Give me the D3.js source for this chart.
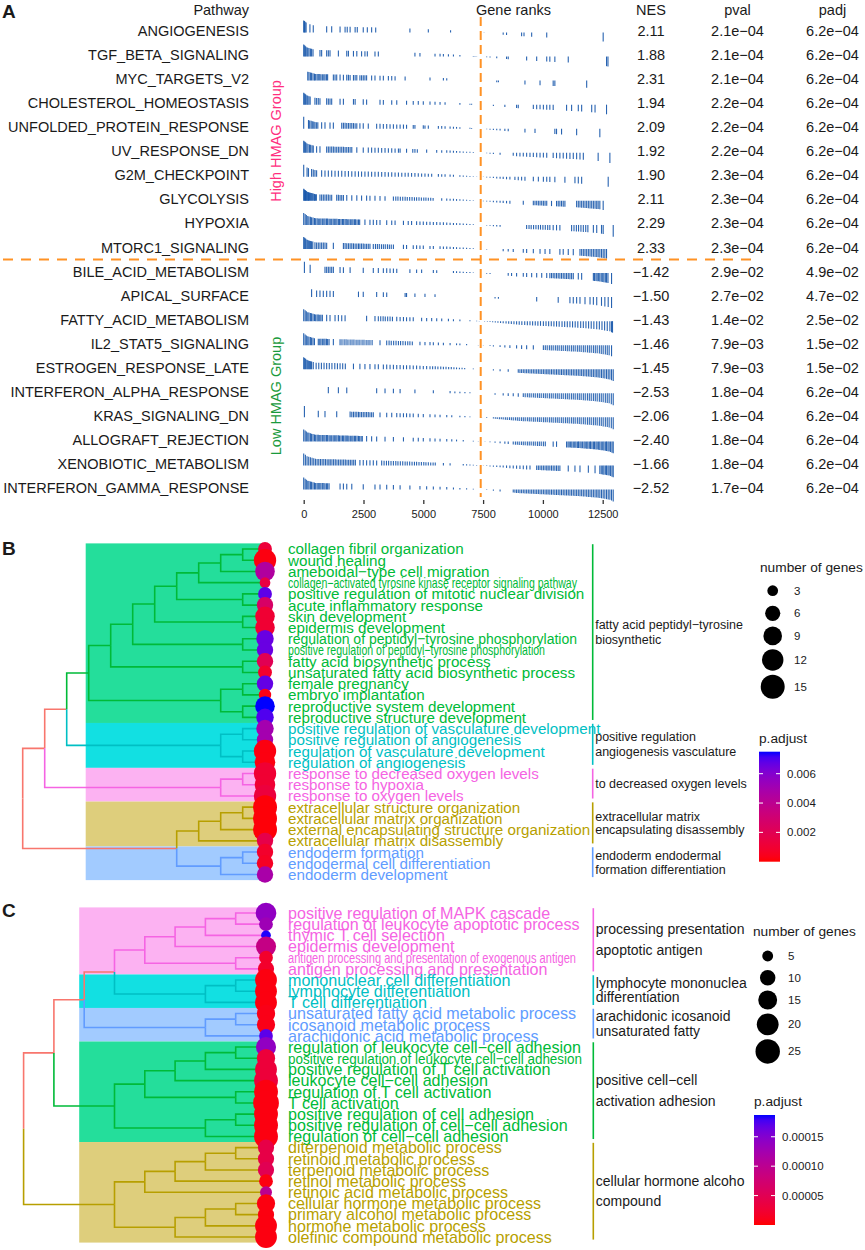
<!DOCTYPE html>
<html>
<head>
<meta charset="utf-8">
<script src="https://cdn.jsdelivr.net/npm/d3@7"></script>
<style>
body { margin: 0; background: #fff; }
svg text { font-family: "Liberation Sans", Arial, sans-serif; fill: #1a1a1a; }
</style>
</head>
<body>
<div id="fig"></div>
<script>
// ---------- Panel A: GSEA table ----------
var pathways = ["ANGIOGENESIS","TGF_BETA_SIGNALING","MYC_TARGETS_V2","CHOLESTEROL_HOMEOSTASIS",
  "UNFOLDED_PROTEIN_RESPONSE","UV_RESPONSE_DN","G2M_CHECKPOINT","GLYCOLYSIS","HYPOXIA","MTORC1_SIGNALING",
  "BILE_ACID_METABOLISM","APICAL_SURFACE","FATTY_ACID_METABOLISM","IL2_STAT5_SIGNALING","ESTROGEN_RESPONSE_LATE",
  "INTERFERON_ALPHA_RESPONSE","KRAS_SIGNALING_DN","ALLOGRAFT_REJECTION","XENOBIOTIC_METABOLISM","INTERFERON_GAMMA_RESPONSE"];
var nes = [2.11,1.88,2.31,1.94,2.09,1.92,1.90,2.11,2.29,2.33,-1.42,-1.50,-1.43,-1.46,-1.45,-2.53,-2.06,-2.40,-1.66,-2.52];
var pval = [2.1e-4,2.1e-4,2.1e-4,2.2e-4,2.2e-4,2.2e-4,2.3e-4,2.3e-4,2.3e-4,2.3e-4,2.9e-2,2.7e-2,1.4e-2,7.9e-3,7.9e-3,1.8e-4,1.8e-4,1.8e-4,1.8e-4,1.7e-4];
var padj = [6.2e-4,6.2e-4,6.2e-4,6.2e-4,6.2e-4,6.2e-4,6.2e-4,6.2e-4,6.2e-4,6.2e-4,4.9e-2,4.7e-2,2.5e-2,1.5e-2,1.5e-2,6.2e-4,6.2e-4,6.2e-4,6.2e-4,6.2e-4];
var groupNames = ["High HMAG Group","Low HMAG Group"];
var rankTicks = [0,2500,5000,7500,10000,12500];
var zeroRank = 7400;
// ranked-list statistic (scaled to max |stat| = 1) at a few ranks
var statRanks = [0,150,500,1500,3000,4500,6000,7000,7400,8000,9000,10500,11500,12300,12800,12950];
var statValues = [1.0,0.75,0.55,0.5,0.42,0.32,0.2,0.07,0,-0.12,-0.3,-0.45,-0.55,-0.68,-0.85,-1.0];
// gene positions of each pathway in the ranked list
var geneRanks = [
[0,30,60,100,260,400,960,1170,1520,1730,1820,1940,2150,2240,2490,2660,2840,3010,4440,5210,6140,7540,8340,8480,9110,9210,9530,10160,12520],
[0,40,80,130,170,220,280,330,390,680,750,960,1030,1100,1450,1800,1870,2080,2220,2420,2560,2660,2980,3120,4650,4860,5490,5700,5840,6050,6260,6530,7090,7160,7230,7650,7790,8070,8480,8550,9320,9740,10160,10290,10500,11060,12660,12720],
[170,220,280,330,390,450,500,560,610,670,720,780,840,890,950,1000,1240,1310,1380,1520,1660,1800,1870,1940,2080,2150,2220,2350,2420,2490,2560,2630,2840,2980,3190,3330,3540,3680,3820,4240,5280,5840,5980,7440,8070,8140,9250,9880,10430,10500,11830],
[0,40,80,130,170,220,270,470,540,610,680,960,1030,1100,1170,1520,1660,2080,2150,2490,2630,3190,3330,3680,3890,4300,4580,4790,5000,5280,5490,5700,5910,6530,6950,7020,7440,7930,8410,8900,8970,9600,9740,9880,10020,10160,10290,10430,10990,11200,11480,11620,12040,12180,12660],
[0,200,250,310,360,420,470,530,590,750,890,1100,1240,1590,1660,1730,1800,1870,1940,2010,2080,2150,2220,2350,2490,2700,3050,3190,3330,3470,3610,3750,3890,4030,4170,4300,4580,4650,5000,5070,5210,5630,5770,5910,6120,6260,6390,6530,6950,7020,7370,7440,7650,7790,7930,8070,8210,8410,8550,9250,9670,10500,10570,10780,11410,12380],
[0,40,80,130,180,240,290,350,400,540,680,960,1030,1100,1170,1240,1310,1380,1450,1520,1590,1660,1730,1800,1870,1940,2010,2220,2490,2700,2840,2980,3120,3260,3400,3540,3680,3820,3960,4030,4300,4560,4650,4750,5140,5560,5770,5980,6120,6260,6390,6530,6670,6810,6950,7090,7440,7650,7790,7930,8210,8760,8900,9040,9180,9320,9460,9600,9740,9880,10020,10160,10430,10570,10710,10850,10990,11130,11270,11410,11550,11690,12310,12800],
[0,140,200,330,400,470,540,750,890,1030,1170,1310,1450,1590,1730,1870,2010,2150,2290,2420,2560,2700,2840,2980,3120,3260,3400,3540,3680,3820,3960,4100,4240,4370,4510,4650,4790,4930,5070,5210,5350,5630,5770,5910,6120,6260,6530,6670,6810,6950,7090,7230,7510,7650,7790,7930,8070,8210,8340,8480,8620,8830,8970,9110,9250,9600,9810,10020,10160,10290,10500,10920,11340,11480,11620,12730],
[0,30,60,80,110,140,170,200,240,280,320,360,400,450,490,530,680,750,820,890,960,1030,1100,1170,1380,1450,1520,1590,1660,1800,2010,2220,2420,2630,2770,2980,3190,3400,3750,3850,3940,4040,4140,4240,4330,4430,4530,4630,4720,4820,4920,5020,5110,5210,5310,5410,5770,5980,6120,6260,6390,6530,6670,6810,6950,7090,7300,7510,7650,7790,7930,8070,8210,8340,8480,8620,9180,9600,9670,9740,9810,9880,9950,10020,10090,10160,10360,10570,10640,10710,10780,10850,10920,11410,11480,11550,11620,11690,11760,11830,11900,11970,12040,12110,12180,12250,12310,12380,12520],
[0,60,110,170,220,280,330,390,450,500,560,610,670,720,780,840,890,950,1000,1060,1110,1170,1230,1280,1340,1390,1450,1500,1560,1620,1670,1730,1780,1840,1890,1950,2010,2060,2120,2170,2230,2290,2340,2560,2770,2910,3050,3190,3470,3680,3820,4170,4370,4510,4720,4860,5000,5140,5280,5420,5560,5700,5840,5980,6120,6260,6390,6530,6670,6810,6950,7090,7650,7790,7930,8070,8210,9320,9420,9510,9610,9710,9810,9900,10000,10100,10200,10290,10430,10570,10710,11200,11300,11400,11490,11590,11690,11790,11880,12110,12250,12450,12520,12940],
[0,40,80,130,170,210,250,290,330,380,470,540,610,680,750,820,890,960,1240,1660,1730,1800,1870,1940,2010,2080,2150,2220,2290,2350,2420,2490,2560,2630,2700,2770,2910,3000,3080,3160,3250,3330,3410,3500,3580,3660,3750,4170,4300,4580,4720,4860,5000,5280,5420,5700,5840,5980,6120,6260,6390,6530,6670,6810,6950,7090,7650,8340,8550,8760,9180,9320,9600,9880,10090,10290,10710,10850,11060,11270,11550,11620,11690,11760,11830,11900,11970,12040,12110,12180,12250,12310,12380,12450,12520,12590,12660],
[30,270,890,960,1030,1100,1170,1240,1520,1660,1940,2490,2910,3120,3330,3470,3610,3750,3890,4440,4720,4930,5420,5560,6260,6390,6530,6670,6810,6950,7090,7650,7790,8550,8690,8900,9180,9320,9530,9740,9950,10160,10290,10360,10430,10500,10570,10640,10710,10780,10850,10920,10990,11060,11130,11200,11270,11480,11620,12110,12160,12220,12270,12330,12380,12440,12500,12550,12610,12660,12720,12870],
[330,540,680,820,960,1100,1240,2290,2490,3050,3330,3470,4240,4300,4650,5070,5490,8000,8140,9740,10640,11130,11270,11410,11550,11760,11970,12110,12250,12450,12590,12730,12870],
[0,60,110,170,220,280,330,390,450,500,560,610,670,720,780,960,1100,1310,1450,1590,1730,2630,2980,3120,3220,3320,3410,3510,3610,3710,3890,4030,4170,4300,4440,4580,4930,5140,5350,5560,5770,6050,6260,6530,6950,7230,7340,7450,7560,7680,7790,7900,8010,8120,8230,8340,8460,8570,8680,8790,8900,9010,9120,9240,9350,9460,9570,9680,9790,9900,10020,10130,10240,10350,10460,10570,10680,10800,10910,11020,11130,11240,11350,11460,11580,11690,11800,11910,12020,12130,12250,12360,12470,12580,12690,12800,12870,12910],
[0,60,110,170,220,280,330,390,450,610,670,720,780,840,890,950,1000,1060,1240,1520,1600,1690,1770,1850,1940,2020,2100,2190,2270,2350,2440,2520,2610,2690,2770,2860,3190,3470,3570,3660,3760,3860,3960,4050,4150,4250,4350,4440,4540,4860,5070,5280,5420,5630,5840,6120,6390,6530,6810,7300,7510,7790,7930,8210,8410,8620,8900,9110,9320,9600,10020,10100,10180,10270,10350,10430,10520,10600,10680,10770,10850,10940,11020,11100,11190,11270,11350,11440,11520,11600,11690,11770,11860,11940,12020,12110,12190,12270,12360,12440,12520,12610,12690,12770,12870],
[0,40,80,130,170,210,250,290,330,400,520,630,740,850,960,1070,1180,1300,1410,1520,1630,1740,2080,2350,2560,2770,2980,3120,3330,3470,3610,3750,3890,4030,4170,4300,4440,4580,4720,4860,5000,5140,5280,5390,5500,5610,5730,5840,5950,6060,6170,6280,6390,6510,6620,6730,7090,7370,7930,8210,8550,8970,9040,9110,9180,9250,9320,9390,9460,9530,9600,9670,9740,9810,9880,9950,10020,10090,10160,10220,10290,10360,10430,10500,10570,10640,10710,10780,10850,10920,10990,11060,11130,11200,11270,11340,11410,11480,11550,11620,11690,11760,11830,11900,11970,12040,12110,12180,12250,12310,12380,12450,12520,12590,12660,12730,12800,12870,12940],
[1030,1450,1800,3050,3400,3750,4030,4650,5420,6120,6320,6530,6740,6950,7370,8000,8340,8550,8760,8970,9180,9260,9350,9430,9510,9600,9680,9770,9850,9930,10020,10100,10180,10270,10350,10430,10520,10600,10680,10770,10850,10940,11020,11100,11190,11270,11350,11440,11520,11600,11690,11770,11860,11940,12020,12110,12190,12270,12360,12440,12520,12610,12690,12770,12860,12940],
[30,610,890,1380,1940,2010,2080,2150,2220,2290,2350,2420,2490,2560,2630,2700,2770,2840,2910,3190,3470,3680,3890,4030,4170,4300,4440,4580,4790,5000,5280,5490,5700,5980,6190,6530,6740,6950,7440,7650,7930,8010,8090,8180,8260,8340,8430,8510,8600,8680,8760,8850,8930,9010,9100,9180,9260,9350,9430,9510,9600,9680,9770,9850,9930,10020,10100,10180,10270,10350,10430,10520,10600,10680,10770,10850,10940,11020,11100,11190,11270,11350,11440,11520,11600,11690,11770,11860,11940,12020,12110,12190,12270,12360,12440,12520,12610,12690,12770,12860,12940],
[0,60,110,170,220,280,330,390,450,500,560,610,670,720,780,840,890,950,1000,1060,1110,1170,1230,1280,1340,1390,1450,1500,1560,1620,1670,1730,1780,1840,1890,1950,2010,2060,2120,2170,2230,2290,2340,2400,2450,2630,2840,3050,3400,3750,4170,4580,4790,5000,5280,5490,5700,5980,6190,6390,6670,7090,7300,7580,7790,8000,8210,8410,8550,8760,8850,8930,9010,9100,9180,9260,9350,9430,9510,9600,9680,9770,9850,9930,10020,10100,10430,10570,10990,11050,11100,11160,11210,11270,11330,11380,11440,11490,11550,11600,11660,11720,11770,11830,11880,11940,11990,12050,12110,12160,12220,12270,12330,12380,12440,12500,12550,12610,12660,12720,12770,12830,12890,12940],
[0,70,140,210,280,350,420,490,560,630,700,770,840,910,980,1050,1110,1180,1250,1320,1390,1460,1530,1600,1670,1740,1810,1880,1950,2020,2090,2160,2350,2490,2630,2770,2910,3050,3260,3360,3460,3550,3650,3750,3850,3940,4040,4140,4240,4330,4430,4530,4630,4720,4820,4920,5020,5110,5210,5310,5410,5500,5840,6120,6670,6810,6950,7090,7230,7370,7510,7650,7790,7930,8070,8210,8340,8480,8620,8760,8900,9040,9180,9320,9460,9740,9810,9880,9950,10020,10090,10160,10220,10290,10360,10430,10500,10570,10640,10710,11060,11340,11550,11900,12180,12380,12440,12500,12550,12610,12660,12720,12770,12830,12890,12940],
[0,60,110,170,220,280,330,390,450,500,560,610,670,720,780,840,890,950,1000,1060,1520,1660,1800,2010,2490,2980,3190,3470,3750,4030,4440,4860,5140,5420,5700,5980,6260,6530,6810,7090,7440,7650,7930,8210,8760,8830,8900,8970,9040,9110,9180,9250,9320,9390,9460,9530,9600,9670,9740,9810,9880,9950,10020,10090,10160,10220,10290,10360,10430,10500,10570,10640,10710,10780,10850,10920,10990,11060,11130,11200,11270,11340,11410,11480,11550,11620,11690,11760,11830,11900,11970,12040,12110,12180,12250,12310,12380,12450,12520,12590,12660,12730,12800,12870,12940]
];

// ---------- Panel B: GO tree (up) ----------
var termsB = ["collagen fibril organization","wound healing","ameboidal−type cell migration",
  "collagen−activated tyrosine kinase receptor signaling pathway","positive regulation of mitotic nuclear division",
  "acute inflammatory response","skin development","epidermis development",
  "regulation of peptidyl−tyrosine phosphorylation","positive regulation of peptidyl−tyrosine phosphorylation",
  "fatty acid biosynthetic process","unsaturated fatty acid biosynthetic process","female pregnancy",
  "embryo implantation","reproductive system development","reproductive structure development",
  "positive regulation of vasculature development","positive regulation of angiogenesis",
  "regulation of vasculature development","regulation of angiogenesis",
  "response to decreased oxygen levels","response to hypoxia","response to oxygen levels",
  "extracellular structure organization","extracellular matrix organization",
  "external encapsulating structure organization","extracellular matrix disassembly",
  "endoderm formation","endodermal cell differentiation","endoderm development"];
var clusterB = [0,0,0,0,0,0,0,0,0,0,0,0,0,0,0,0,1,1,1,1,2,2,2,3,3,3,3,4,4,4];
var countB = [5,13,10,3,5,7,10,10,8,7,7,5,7,4,10,8,8,7,13,11,13,11,13,15,15,15,7,7,7,7];
var padjB = [0.0012,0.0002,0.0045,0.0015,0.0068,0.0026,0.0010,0.0010,0.0066,0.0066,0.0020,0.0008,0.0067,0.0003,0.0075,0.0070,
  0.0050,0.0050,0.0002,0.0002,0.0010,0.0010,0.0013,0.0001,0.0001,0.0001,0.0017,0.0008,0.0006,0.0048];
var treeB = [[[[[[[[[[[0,1],2],3],[4,5]],[6,7]],[8,9]],[10,11]],[[12,13],[14,15]]],[[16,17],[18,19]]],[[20,21],22]],
  [[[[23,24],25],26],[[27,28],29]]];
var clusterLabelsB = [["fatty acid peptidyl−tyrosine","biosynthetic"],["positive regulation","angiogenesis vasculature"],
  ["to decreased oxygen levels"],["extracellular matrix","encapsulating disassembly"],["endoderm endodermal","formation differentiation"]];
var sizeBreaksB = [3,6,9,12,15];
var colorBreaksB = [0.002,0.004,0.006];
var colorLimitsB = [0,0.0075];

// ---------- Panel C: GO tree (down) ----------
var termsC = ["positive regulation of MAPK cascade","regulation of leukocyte apoptotic process","thymic T cell selection",
  "epidermis development","antigen processing and presentation of exogenous antigen","antigen processing and presentation",
  "mononuclear cell differentiation","lymphocyte differentiation","T cell differentiation",
  "unsaturated fatty acid metabolic process","icosanoid metabolic process","arachidonic acid metabolic process",
  "regulation of leukocyte cell−cell adhesion","positive regulation of leukocyte cell−cell adhesion",
  "positive regulation of T cell activation","leukocyte cell−cell adhesion","regulation of T cell activation",
  "T cell activation","positive regulation of cell adhesion","positive regulation of cell−cell adhesion",
  "regulation of cell−cell adhesion","diterpenoid metabolic process","retinoid metabolic process",
  "terpenoid metabolic process","retinol metabolic process","retinoic acid metabolic process",
  "cellular hormone metabolic process","primary alcohol metabolic process","hormone metabolic process",
  "olefinic compound metabolic process"];
var clusterC = [0,0,0,0,0,0,1,1,1,2,2,2,3,3,3,3,3,3,3,3,3,4,4,4,4,4,4,4,4,4];
var countC = [18,8,4,17,8,11,20,20,20,14,14,8,17,14,20,24,24,28,24,24,24,11,11,11,8,6,14,11,20,20];
var padjC = [0.00014,0.00013,0.000185,0.00009,0.00002,0.00002,0.000005,0.000005,0.000005,0.000008,0.000008,0.00017,
  0.00014,0.00003,0.00003,0.00003,0.000005,0.000005,0.000005,0.000005,0.000005,
  0.00004,0.00004,0.00005,0.000005,0.0001,0.000005,0.000005,0.000005,0.000005];
var treeC = [[[[[[[[0,1],2],3],[4,5]],[[6,7],8]],[[9,10],11]],[[[[[12,13],14],15],[16,17]],[[18,19],20]]],
  [[[[[21,22],23],24],25],[[[26,27],28],29]]];
var clusterLabelsC = [["processing presentation","apoptotic antigen"],["lymphocyte mononuclea","differentiation"],
  ["arachidonic icosanoid","unsaturated fatty"],["positive cell−cell","activation adhesion"],["cellular hormone alcoho","compound"]];
var sizeBreaksC = [5,10,15,20,25];
var colorBreaksC = [0.00005,0.0001,0.00015];
var colorLimitsC = [0,0.000187];

// ---------- styles ----------
var hue = {green:"#00BA38", cyan:"#00BFC4", pink:"#F564E3", olive:"#B79F00", blue:"#619CFF", salmon:"#F8766D"};
var hiFill = {"#00BA38":"#24DE9B","#00BFC4":"#12E0E2","#F564E3":"#FCB2F2","#B79F00":"#DECE7C","#619CFF":"#A2CBFF"};
var barColor = "#1152a8", orange = "#FF9224";

var svg = d3.select("#fig").append("svg").attr("width", 865).attr("height", 1250);

// ===== Panel A =====
var gA = svg.append("g");
var rowY = d3.scalePoint().domain(d3.range(pathways.length)).range([31, 488]);
var xRank = d3.scaleLinear().domain([0, 12500]).range([303.7, 602.7]);
var stat = d3.scaleLinear().domain(statRanks).range(statValues).clamp(true);
var statPx = d3.scaleLinear().domain([0, 1]).range([0, -12]);

gA.append("text").attr("x", 2).attr("y", 18).attr("font-size", 19).attr("font-weight", "bold").text("A");
var headers = [["Pathway", 249, "end"], ["Gene ranks", 476, "start"], ["NES", 651, "middle"], ["pval", 737.5, "middle"], ["padj", 832.5, "middle"]];
headers.forEach(function (h) {
  gA.append("text").attr("x", h[1]).attr("y", 10).attr("dy", "0.35em").attr("font-size", 14.5)
    .attr("text-anchor", h[2]).text(h[0]);
});

gA.selectAll("text.pw").data(pathways).enter().append("text").attr("class", "pw")
  .attr("x", 249).attr("y", function (d, i) { return rowY(i); }).attr("dy", "0.35em")
  .attr("text-anchor", "end").attr("font-size", 14.5).text(function (d) { return d; });

var sci = function (v) {
  var e = Math.floor(Math.log10(v) + 1e-9);
  var m = v / Math.pow(10, e);
  return m.toFixed(1) + "e−" + String(-e).padStart(2, "0");
};
var f2 = d3.format(".2f");
pathways.forEach(function (p, i) {
  var y = rowY(i);
  gA.append("text").attr("x", 651).attr("y", y).attr("dy", "0.35em").attr("text-anchor", "middle").attr("font-size", 14.5).text(f2(nes[i]));
  gA.append("text").attr("x", 737.5).attr("y", y).attr("dy", "0.35em").attr("text-anchor", "middle").attr("font-size", 14.5).text(sci(pval[i]));
  gA.append("text").attr("x", 832.5).attr("y", y).attr("dy", "0.35em").attr("text-anchor", "middle").attr("font-size", 14.5).text(sci(padj[i]));
  var base = y + 1.5;
  gA.append("g").selectAll("line").data(geneRanks[i]).enter().append("line")
    .attr("x1", function (r) { return xRank(r); }).attr("x2", function (r) { return xRank(r); })
    .attr("y1", base).attr("y2", function (r) { return base + statPx(stat(r)); })
    .attr("stroke", barColor).attr("stroke-width", 1.1).attr("stroke-opacity", 0.9);
});

// group labels
gA.append("text").attr("transform", "translate(281,141) rotate(-90)").attr("text-anchor", "middle")
  .attr("font-size", 14.5).style("fill", "#FF2E7E").text(groupNames[0]);
gA.append("text").attr("transform", "translate(281,396) rotate(-90)").attr("text-anchor", "middle")
  .attr("font-size", 14.5).style("fill", "#1A9A3C").text(groupNames[1]);

// dashed separators
var midY = (rowY(9) + rowY(10)) / 2;
gA.append("line").attr("x1", 3).attr("x2", 758).attr("y1", midY).attr("y2", midY)
  .attr("stroke", orange).attr("stroke-width", 2).attr("stroke-dasharray", "10,8");
gA.append("line").attr("x1", xRank(zeroRank)).attr("x2", xRank(zeroRank)).attr("y1", 17).attr("y2", 497)
  .attr("stroke", orange).attr("stroke-width", 2).attr("stroke-dasharray", "9,5");

// rank axis
var ax = gA.append("g").attr("transform", "translate(0,500)")
  .call(d3.axisBottom(xRank).tickValues(rankTicks).tickSize(4).tickPadding(6).tickFormat(d3.format("d")));
ax.select(".domain").remove();
ax.selectAll(".tick line").attr("stroke", "#333").attr("stroke-width", 1.3);
ax.selectAll(".tick text").attr("font-size", 11).attr("font-family", "Liberation Sans, Arial, sans-serif").style("fill", "#1a1a1a");

// ===== Panels B and C =====
function drawTree(p) {
  var g = svg.append("g");
  g.append("text").attr("x", 2).attr("y", p.tagY).attr("font-size", 19).attr("font-weight", "bold").text(p.tag);
  var n = p.terms.length;
  var y = d3.scaleLinear().domain([0, n - 1]).range(p.yRange);
  var step = (p.yRange[1] - p.yRange[0]) / (n - 1);
  var root = d3.hierarchy(p.tree, function (d) { return Array.isArray(d) ? d : null; });
  var x = d3.scaleLinear().domain([0, root.height]).range(p.xRange);
  root.eachAfter(function (nd) {
    if (nd.children) {
      nd.row = d3.mean(nd.children, function (c) { return c.row; });
      var cs = nd.children.map(function (c) { return c.cl; });
      nd.cl = cs.every(function (c) { return c === cs[0]; }) ? cs[0] : -1;
    } else {
      nd.row = nd.data;
      nd.cl = p.cluster[nd.data];
    }
  });
  var groups = d3.groups(d3.range(n), function (i) { return p.cluster[i]; });

  // highlight rects
  groups.forEach(function (gr) {
    var first = d3.min(gr[1]), last = d3.max(gr[1]);
    g.append("rect").attr("x", p.rectX).attr("width", p.bubbleX - p.rectX)
      .attr("y", y(first) - step / 2).attr("height", y(last) - y(first) + step)
      .attr("fill", hiFill[p.colors[gr[0]]]);
  });

  // edges
  root.descendants().filter(function (d) { return d.parent; }).forEach(function (d) {
    var col = d.cl < 0 ? hue.salmon : p.colors[d.cl];
    var px = x(d.parent.height), py = y(d.parent.row);
    var cx = d.children ? x(d.height) : p.bubbleX;
    g.append("path").attr("d", "M" + px + "," + py + "V" + y(d.row) + "H" + cx)
      .attr("fill", "none").attr("stroke", col).attr("stroke-width", 1.6);
  });

  // bubbles
  var size = d3.scaleSqrt().domain([0, p.sizeMax]).range([0, p.rMax]);
  var color = d3.scaleLinear().domain(p.colorLimits).range(["#FF0000", "#0000FF"]).interpolate(d3.interpolateLab);
  g.selectAll("circle.b").data(p.counts).enter().append("circle").attr("class", "b")
    .attr("cx", p.bubbleX).attr("cy", function (d, i) { return y(i); })
    .attr("r", function (d) { return size(d); })
    .attr("fill", function (d, i) { return color(p.padj[i]); });

  // term labels
  p.terms.forEach(function (t, i) {
    var squeeze = p.condensed[i];
    var tx = g.append("text").attr("x", p.labelX).attr("y", y(i)).attr("dy", "0.36em")
      .attr("font-size", squeeze && squeeze[1] ? p.fontSize - 0.8 : p.fontSize)
      .style("fill", p.colors[p.cluster[i]]).text(t);
    if (squeeze) tx.attr("textLength", squeeze[0]).attr("lengthAdjust", "spacingAndGlyphs");
  });

  // cluster bars + names
  groups.forEach(function (gr, k) {
    var first = d3.min(gr[1]), last = d3.max(gr[1]);
    var y0 = y(first) - 4.8, y1 = y(last) + 2.6;
    g.append("line").attr("x1", p.barX).attr("x2", p.barX).attr("y1", y0).attr("y2", y1)
      .attr("stroke", p.colors[gr[0]]).attr("stroke-width", 1.6);
    var lines = p.clusterLabels[gr[0]], gap = p.lineGap[gr[0]];
    var cy = (y0 + y1) / 2 - gap * (lines.length - 1) / 2;
    lines.forEach(function (l, j) {
      g.append("text").attr("x", p.barX + 2.5).attr("y", cy + j * gap).attr("dy", "0.35em")
        .attr("font-size", p.clusterFont).text(l);
    });
  });

  // size legend
  g.append("text").attr("x", p.sizeLeg.x).attr("y", p.sizeLeg.titleY).attr("dy", "0.35em").attr("font-size", 13.7).text("number of genes");
  var yy = p.sizeLeg.firstY, prevH = 0;
  p.sizeBreaks.forEach(function (b, i) {
    var h = Math.max(p.sizeLeg.keyH, 2 * size(b) + 4);
    if (i > 0) yy += (prevH + h) / 2;
    prevH = h;
    g.append("circle").attr("cx", p.sizeLeg.cx).attr("cy", yy).attr("r", size(b)).attr("fill", "#000");
    g.append("text").attr("x", p.sizeLeg.lx).attr("y", yy).attr("dy", "0.35em").attr("font-size", 11.5).text(b);
  });

  // color legend
  var cl = p.colorLeg;
  g.append("text").attr("x", cl.x).attr("y", cl.titleY).attr("dy", "0.35em").attr("font-size", 13.7).text("p.adjust");
  var gid = "grad" + p.tag;
  var grad = svg.append("defs").append("linearGradient").attr("id", gid)
    .attr("x1", 0).attr("y1", 1).attr("x2", 0).attr("y2", 0);
  d3.range(0, 1.0001, 0.05).forEach(function (t) {
    grad.append("stop").attr("offset", t).attr("stop-color", color(p.colorLimits[0] + t * (p.colorLimits[1] - p.colorLimits[0])));
  });
  g.append("rect").attr("x", cl.x).attr("y", cl.y).attr("width", cl.w).attr("height", cl.h).attr("fill", "url(#" + gid + ")");
  var cyS = d3.scaleLinear().domain(p.colorLimits).range([cl.y + cl.h, cl.y]);
  p.colorBreaks.forEach(function (b) {
    var ty = cyS(b);
    g.append("line").attr("x1", cl.x).attr("x2", cl.x + 4).attr("y1", ty).attr("y2", ty).attr("stroke", "#fff").attr("stroke-width", 1);
    g.append("line").attr("x1", cl.x + cl.w - 4).attr("x2", cl.x + cl.w).attr("y1", ty).attr("y2", ty).attr("stroke", "#fff").attr("stroke-width", 1);
    g.append("text").attr("x", cl.x + cl.w + 7).attr("y", ty).attr("dy", "0.35em").attr("font-size", 11.5).text(p.colorFmt(b));
  });
}

drawTree({
  tag: "B", tagY: 555, terms: termsB, cluster: clusterB, counts: countB, padj: padjB, tree: treeB,
  colors: [hue.green, hue.cyan, hue.pink, hue.olive, hue.blue],
  yRange: [549, 874.5], xRange: [264.7, 22.7], rectX: 85.7, bubbleX: 265, labelX: 288,
  fontSize: 15.2, condensed: {3: [289, true], 8: [289, false], 9: [257, true]},
  barX: 592.7, clusterFont: 12.5, clusterLabels: clusterLabelsB, lineGap: [15, 15, 14, 13.5, 14],
  sizeMax: 15, rMax: 12, sizeBreaks: sizeBreaksB,
  sizeLeg: {x: 760, titleY: 567.5, cx: 772.7, lx: 794, firstY: 590.7, keyH: 22.6},
  colorLimits: colorLimitsB, colorBreaks: colorBreaksB, colorFmt: d3.format(".3f"),
  colorLeg: {x: 759, y: 751.7, w: 21, h: 110, titleY: 738}
});

drawTree({
  tag: "C", tagY: 917, terms: termsC, cluster: clusterC, counts: countC, padj: padjC, tree: treeC,
  colors: [hue.pink, hue.cyan, hue.blue, hue.green, hue.olive],
  yRange: [913, 1237], xRange: [266, 23.6], rectX: 79.2, bubbleX: 266, labelX: 288,
  fontSize: 16.1, condensed: {4: [288, true], 13: [294, true]},
  barX: 593.3, clusterFont: 14, clusterLabels: clusterLabelsC, lineGap: [20.5, 14, 14.4, 21, 20],
  sizeMax: 25, rMax: 12.2, sizeBreaks: sizeBreaksC,
  sizeLeg: {x: 753, titleY: 931.7, cx: 767.7, lx: 788, firstY: 956, keyH: 21.7},
  colorLimits: colorLimitsC, colorBreaks: colorBreaksC, colorFmt: d3.format(".5f"),
  colorLeg: {x: 754, y: 1115, w: 21, h: 110, titleY: 1101.7}
});
</script>
</body>
</html>
